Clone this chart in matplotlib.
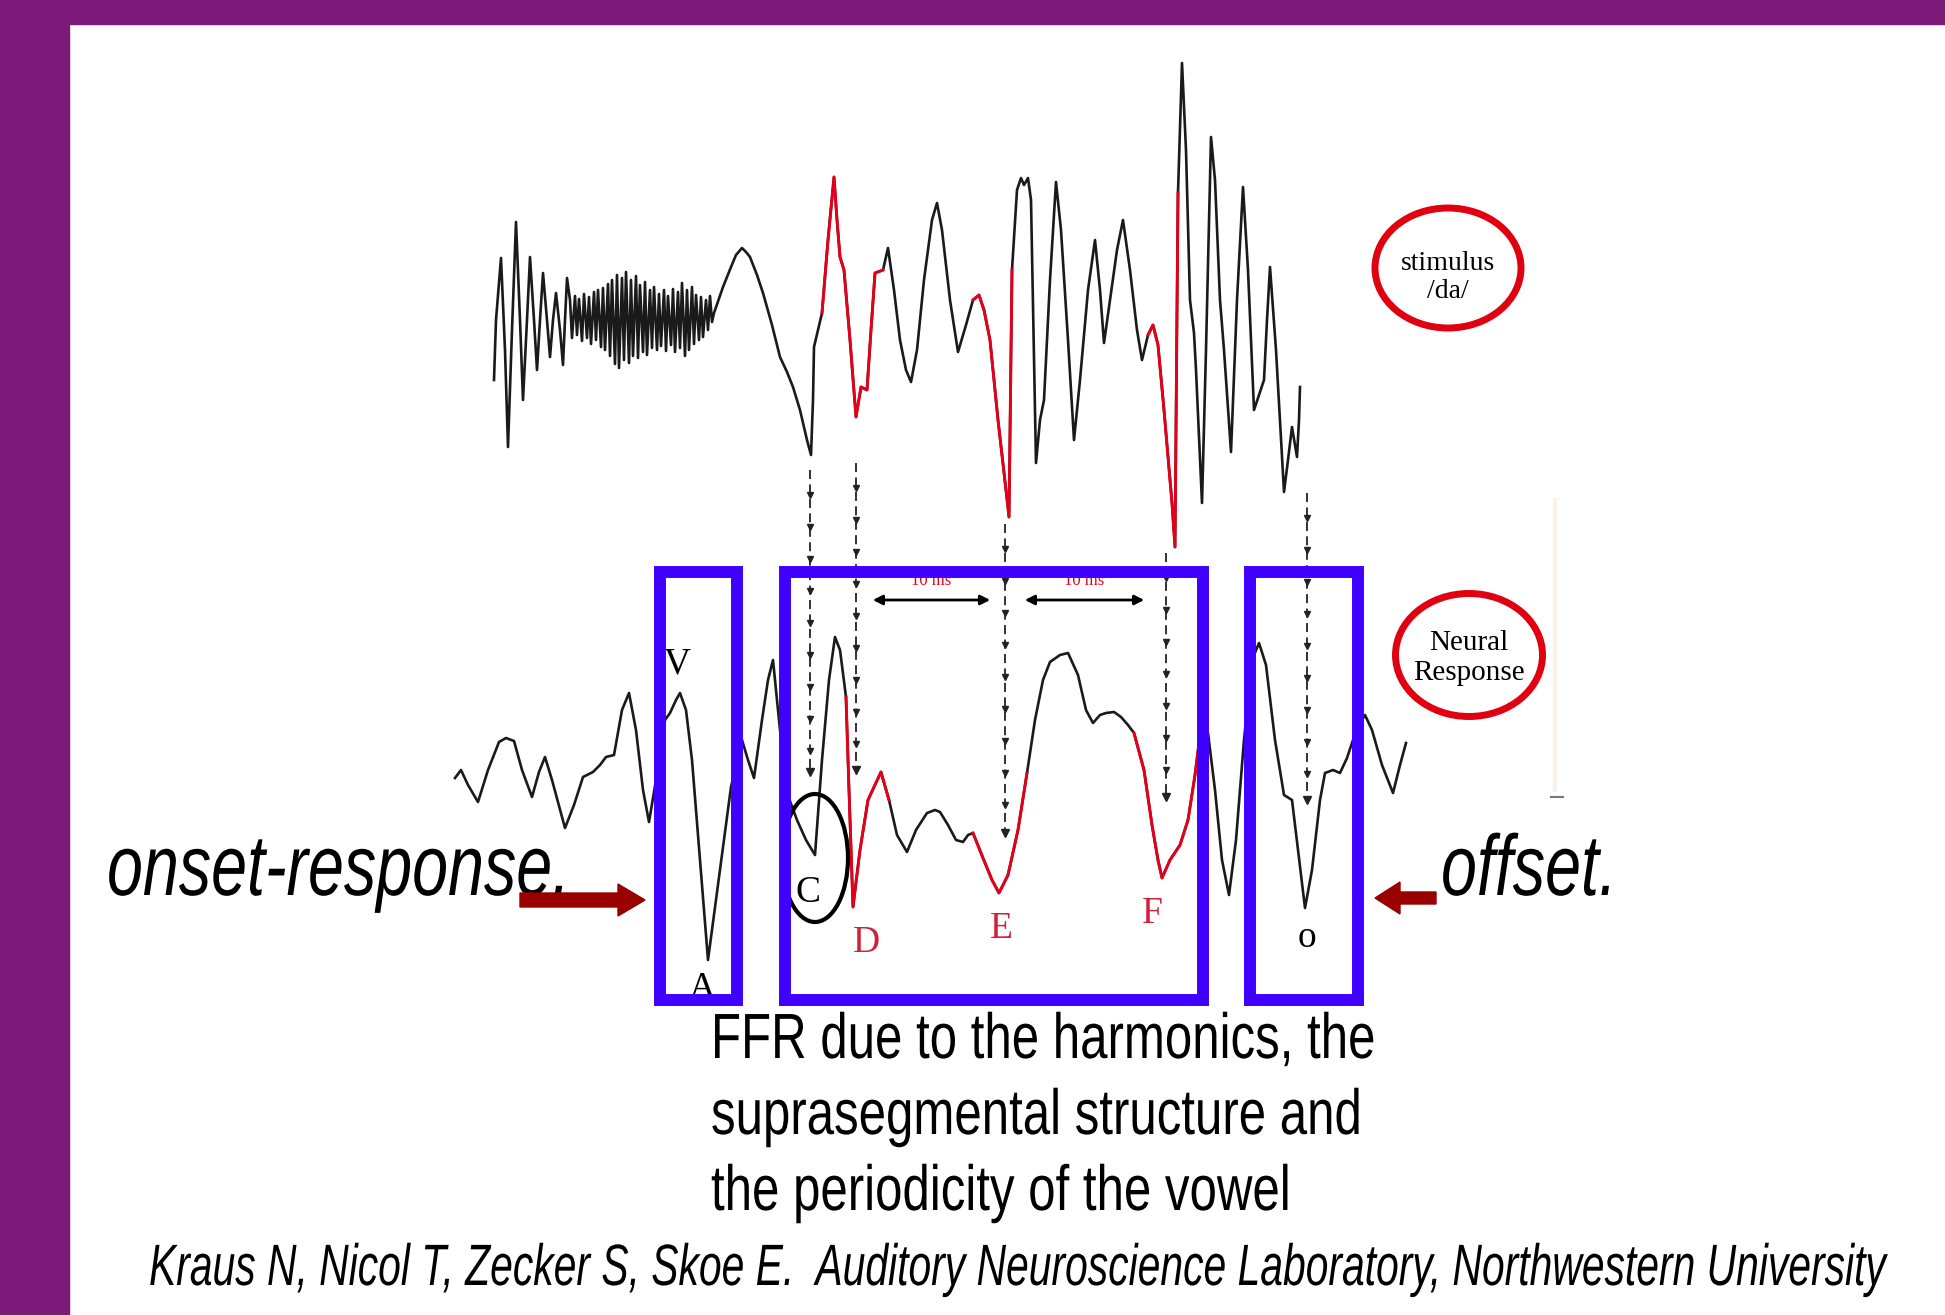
import numpy as np
import matplotlib
matplotlib.use("Agg")
import matplotlib.pyplot as plt
from matplotlib.patches import Rectangle, Ellipse
from matplotlib.patheffects import AbstractPathEffect
from matplotlib.transforms import Affine2D

# stimulus /da/ waveform (x, y, pixel units, y down)
stim_pts = [(494,380),(496,320),(501,258),(505,350),(508,447),(512,330),(516,222),(520,320),
    (523,400),(527,320),(530,257),(534,320),(537,370),(540,320),(543,273),(547,320),(550,357),
    (553,320),(556,293),(560,330),(563,365),(565,320),(567,278),
    (570,300),(572,338),(575,296),(577,335),(579,299),(582,341),(584,294),(587,338),(589,297),
    (591,344),(594,292),(596,340),(598,290),(601,347),(603,288),(605,350),(608,284),(610,356),
    (612,280),(615,364),(617,275),(619,368),(622,278),(624,360),(626,272),(629,363),(631,280),
    (633,356),(636,276),(638,358),(640,285),(643,352),(645,282),(647,355),(650,290),(652,348),
    (654,287),(657,350),(659,294),(661,346),(664,290),(666,351),(668,296),(671,345),(673,289),
    (675,352),(678,292),(680,348),(682,283),(685,356),(687,290),(689,350),(692,287),(694,344),
    (696,295),(699,340),(701,297),(703,337),(706,300),(708,330),(710,296),(712,322),(714,313),
    (723,287),(731,267),(736,255),(742,248),(746,252),(750,257),(757,275),(763,293),(772,325),
    (780,357),(787,372),(793,387),(800,410),(807,440),(811,455),(813,400),(814,347),(818,330),
    (822,313),(828,240),(834,177),(837,220),(840,257),(844,270),(850,340),(856,417),(861,387),
    (867,390),(871,330),(875,273),(883,270),(888,248),(894,290),(900,340),(906,370),(911,382),
    (917,350),(924,280),(932,220),(937,203),(942,230),(950,300),(958,352),(966,325),(973,300),
    (979,295),(984,310),(990,340),(998,420),(1006,490),(1009,517),(1012,270),(1017,190),
    (1021,178),(1024,185),(1028,178),(1031,200),(1036,463),(1040,420),(1044,400),(1050,280),
    (1056,182),(1061,230),(1068,340),(1074,440),(1080,380),(1088,290),(1095,240),(1100,290),
    (1104,343),(1110,300),(1117,250),(1123,220),(1130,270),(1137,330),(1142,360),(1148,335),
    (1153,325),(1158,345),(1164,410),(1170,480),(1172,503),(1175,547),(1178,193),(1182,63),
    (1186,150),(1190,300),(1194,333),(1196,370),(1202,503),(1206,350),(1211,137),(1215,180),
    (1220,300),(1224,350),(1231,452),(1237,300),(1243,187),(1248,270),(1254,410),(1259,395),
    (1264,380),(1267,320),(1270,267),(1276,350),(1284,492),(1288,460),(1292,427),(1297,457),
    (1299,420),(1300,387)]
stim_red = [(822, 883), (970, 1012), (1148, 1178)]

# neural response waveform
neur_pts = [(455,778),(461,770),(468,785),(478,802),(488,770),(499,742),(506,738),(514,741),
    (522,770),(532,797),(539,772),(545,757),(552,780),(565,828),(574,805),(583,777),(593,772),
    (600,765),(606,757),(614,755),(622,710),(629,693),(636,730),(643,790),(649,822),(656,780),
    (665,720),(670,713),(676,700),(680,693),(686,710),(692,760),(700,860),(708,960),(716,900),
    (724,840),(731,787),(742,740),(748,760),(754,778),(762,720),(768,680),(773,660),(780,730),
    (787,793),(797,820),(806,840),(815,855),(822,760),(829,680),(835,637),(840,650),(846,697),
    (849,790),(853,907),(860,850),(868,800),(874,787),(881,772),(889,800),(897,835),(907,852),
    (916,830),(927,813),(935,810),(940,812),(948,825),(956,840),(963,842),(968,835),(973,833),
    (983,858),(992,880),(999,893),(1008,875),(1018,830),(1027,773),(1035,720),(1043,680),
    (1050,662),(1060,655),(1068,653),(1078,675),(1086,710),(1093,723),(1100,715),(1106,713),
    (1114,712),(1121,717),(1128,725),(1134,733),(1144,770),(1152,825),(1158,860),(1162,878),
    (1170,860),(1180,845),(1188,820),(1195,775),(1201,727),(1208,733),(1215,790),(1222,860),
    (1229,895),(1236,840),(1244,740),(1252,660),(1259,643),(1266,665),(1275,740),(1284,795),
    (1292,800),(1298,850),(1305,908),(1312,870),(1320,800),(1325,773),(1333,770),(1340,773),
    (1347,758),(1353,740),(1359,725),(1365,715),(1372,730),(1382,765),(1393,793),(1400,765),
    (1406,743)]
neur_red = [(846, 889), (971, 1027), (1134, 1201)]

# dashed arrows linking stimulus to response: x, y start, y end
link_x = [810, 856, 1005, 1166, 1307]
link_top = [470, 463, 524, 553, 493]
link_bot = [772, 770, 833, 797, 800]

peak_labels = ["V", "A", "C", "D", "E", "F", "o"]
label_colors = ["black", "black", "black", "#d0203a", "#d0203a", "#d0203a", "black"]

caption = ["FFR due to the harmonics, the", "suprasegmental structure and",
           "the periodicity of the vowel"]
citation = "Kraus N, Nicol T, Zecker S, Skoe E.  Auditory Neuroscience Laboratory, Northwestern University"

sans = "Liberation Sans"
serif = "Liberation Serif"


class Tall(AbstractPathEffect):
    """Stretch the glyphs vertically about the baseline y0 (display px),
    which gives the look of a condensed face."""

    def __init__(self, y0, sy):
        super().__init__()
        self.y0, self.sy = y0, sy

    def draw_path(self, renderer, gc, tpath, affine, rgbFace=None):
        t = affine + Affine2D().translate(0, -self.y0).scale(1, self.sy).translate(0, self.y0)
        renderer.draw_path(gc, tpath, t, rgbFace)


W, H = 1945, 1315
fig = plt.figure(figsize=(W / 100, H / 100), dpi=100)
ax = fig.add_axes([0, 0, 1, 1])
ax.set_xlim(0, W)
ax.set_ylim(H, 0)
ax.axis("off")


def narrow_text(x, y, s, size, sx, **kw):
    # font size set by the width, glyph height restored by the path effect
    y0 = ax.transData.transform((x, y))[1]
    return ax.text(x, y, s, fontsize=size * sx, family=sans, va="baseline",
                   path_effects=[Tall(y0, 1 / sx)], **kw)


# purple slide frame
purple = "#7b1a78"
ax.add_patch(Rectangle((0, 0), 69, H, color=purple, zorder=0))
ax.add_patch(Rectangle((0, 0), W, 24, color=purple, zorder=0))


def trace(pts, spans):
    x = np.array([p[0] for p in pts])
    y = np.array([p[1] for p in pts])
    ax.plot(x, y, color="#1a1a1a", lw=1.9, zorder=3, solid_joinstyle="round")
    for a, b in spans:
        m = (x >= a) & (x <= b)
        ax.plot(x[m], y[m], color="#e5001a", lw=2.1, zorder=4, solid_joinstyle="round")


trace(stim_pts, stim_red)
trace(neur_pts, neur_red)

# dashed arrow links
for x, y0, y1 in zip(link_x, link_top, link_bot):
    ax.plot([x, x], [y0, y1], color="#222222", lw=1.3, ls=(0, (5, 3)), zorder=2)
    ys = np.arange(y0 + 25, y1 + 1, 32)
    ax.plot(np.full(len(ys), x), ys, ls="none", marker="v", ms=4.5, color="#222222", zorder=2)
    ax.plot([x], [y1], ls="none", marker="v", ms=6, color="#222222", zorder=2)

# interval arrows and their small red labels (half hidden by the box)
for x0, x1 in [(870, 993), (1022, 1147)]:
    ax.annotate("", xy=(x1, 600), xytext=(x0, 600),
                arrowprops=dict(arrowstyle="<|-|>", color="black", lw=2, mutation_scale=14),
                zorder=2)
    ax.text((x0 + x1) / 2, 585, "10 ms", color="#e5001a", fontsize=12, ha="center",
            va="baseline", family=serif, zorder=1)

# blue boxes
blue = "#3f00ff"
for x0, x1 in [(660, 737), (785, 1203), (1250, 1358)]:
    ax.add_patch(Rectangle((x0, 572), x1 - x0, 428, fill=False, ec=blue, lw=8.6, zorder=6))

# peak labels
label_pos = [(677, 673), (702, 998), (808, 902), (866, 952), (1001, 938), (1152, 923), (1307, 947)]
for lab, (x, y), c in zip(peak_labels, label_pos, label_colors):
    ax.text(x, y, lab, color=c, fontsize=27, ha="center", va="baseline", family=serif, zorder=5)
ax.add_patch(Ellipse((815, 858), 66, 128, fill=False, ec="black", lw=3, zorder=5))

# circled captions
red = "#e00010"
ax.add_patch(Ellipse((1448, 268), 146, 120, fill=False, ec=red, lw=5, zorder=5))
ax.text(1448, 270, "stimulus", fontsize=20, ha="center", va="baseline", family=serif)
ax.text(1448, 298, "/da/", fontsize=20, ha="center", va="baseline", family=serif)
ax.add_patch(Ellipse((1469, 655), 147, 123, fill=False, ec=red, lw=5, zorder=5))
ax.text(1469, 650, "Neural", fontsize=21, ha="center", va="baseline", family=serif)
ax.text(1469, 680, "Response", fontsize=21, ha="center", va="baseline", family=serif)

# faint artefacts at the right of the figure
ax.plot([1555, 1555], [500, 790], color="#fbf0e8", lw=3, zorder=1)
ax.plot([1551, 1563], [797, 797], color="#777777", lw=1.5, zorder=1)

# onset / offset labels with arrows
narrow_text(107, 895, "onset-response.", 62, 0.75, style="italic", zorder=5)
ax.arrow(520, 900, 125, 0, width=14, head_width=32, head_length=27,
         length_includes_head=True, color="#990000", zorder=7)
narrow_text(1441, 895, "offset.", 62, 0.75, style="italic", zorder=5)
ax.arrow(1436, 898, -61, 0, width=12, head_width=32, head_length=25,
         length_includes_head=True, color="#990000", zorder=7)

# caption block and citation
for i, line in enumerate(caption):
    narrow_text(711, 1058 + i * 76, line, 46, 0.77)
narrow_text(149, 1285, citation, 42, 0.70, style="italic")

fig.savefig("out.png", dpi=100)
